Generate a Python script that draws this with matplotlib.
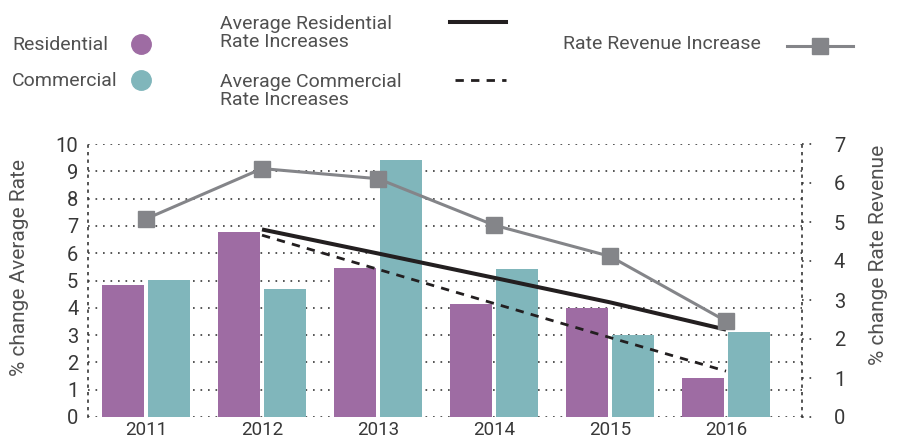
import numpy as np
import matplotlib.pyplot as plt
from matplotlib.lines import Line2D
from matplotlib import transforms

# -------------------------
# Dati
# -------------------------
years = ["2011", "2012", "2013", "2014", "2015", "2016"]
residential = [4.83, 6.77, 5.46, 4.14, 4.00, 1.42]
commercial = [5.01, 4.68, 9.41, 5.42, 3.00, 3.10]
revenue = [5.08, 6.37, 6.11, 4.92, 4.12, 2.46]

# linee di tendenza (da 2012 a 2016)
trend_years = ["2012", "2013", "2014", "2015", "2016"]
trend_residential = [6.87, 5.99, 5.10, 4.20, 3.20]
trend_commercial = [6.66, 5.41, 4.16, 2.91, 1.68]

left_ticks = list(range(0, 11))
right_ticks = list(range(0, 8))

# -------------------------
# Stile
# -------------------------
c_res = "#9e6ca3"
c_com = "#80b6bb"
c_rev = "#848589"
c_trend = "#231f20"
c_text = "#383838"
c_label = "#505050"
dot = (0, (1, 3.5))

plt.rcParams["font.family"] = ["Roboto", "DejaVu Sans"]

W, H = 898, 442
fig = plt.figure(figsize=(W / 100, H / 100), dpi=100)

ax = fig.add_axes([88 / W, 1 - 417 / H, (802 - 88) / W, (417 - 144) / H])
ax2 = ax.twinx()

x = np.arange(len(years))
xt = np.array([years.index(y) for y in trend_years])

ax.bar(x - 0.2, residential, width=0.365, color=c_res, zorder=2)
ax.bar(x + 0.2, commercial, width=0.365, color=c_com, zorder=2)

ax.plot(xt, trend_residential, color=c_trend, lw=2.9, zorder=3, solid_capstyle="butt")
ax.plot(xt, trend_commercial, color=c_trend, lw=2.0, ls=(0, (3, 2.6)), zorder=3)

ax2.plot(x, revenue, color=c_rev, lw=2.2, marker="s", ms=12, zorder=4)

ax.set_xlim(-0.5, 5.655)
ax.set_ylim(0, 10)
ax2.set_ylim(0, 7)

ax.set_xticks(x)
ax.set_xticklabels(years)
ax.set_yticks(left_ticks)
ax2.set_yticks(right_ticks)

ax.tick_params(axis="x", length=0, pad=3, labelsize=13.5, labelcolor=c_text)
ax.tick_params(axis="y", length=0, pad=7, labelsize=14.5, labelcolor=c_text)
ax2.tick_params(axis="y", length=0, pad=23, labelsize=14.5, labelcolor=c_text)

ax.set_axisbelow(True)
ax.grid(axis="y", color=c_text, ls=dot, lw=1.2, zorder=0)

for a in (ax, ax2):
    for s in ("top", "bottom"):
        a.spines[s].set_visible(False)
    for s in ("left", "right"):
        a.spines[s].set_linestyle(dot)
        a.spines[s].set_linewidth(1.2)
        a.spines[s].set_color(c_text)
ax.spines["right"].set_visible(False)
ax2.spines["left"].set_visible(False)

# piccoli tick puntinati sull'asse destro
tr = transforms.blended_transform_factory(ax2.transAxes, ax2.transData)
for v in right_ticks:
    ax2.plot([1.0, 1.018], [v, v], transform=tr, color=c_text, ls=dot, lw=1.2, clip_on=False)

fig.text(20 / W, 1 - 267 / H, "% change Average Rate", rotation=90, ha="center", va="center",
         fontsize=15, color=c_label)
fig.text(878 / W, 1 - 255 / H, "% change Rate Revenue", rotation=90, ha="center", va="center",
         fontsize=15, color=c_label)

# -------------------------
# Legenda
# -------------------------
fs = 14
fig.text(12 / W, 1 - 45 / H, "Residential", ha="left", va="center", fontsize=fs, color=c_label)
fig.text(12 / W, 1 - 81 / H, "Commercial", ha="left", va="center", fontsize=fs, color=c_label)
fig.add_artist(Line2D([141 / W], [1 - 44 / H], marker="o", ms=14, color=c_res, transform=fig.transFigure))
fig.add_artist(Line2D([141 / W], [1 - 80 / H], marker="o", ms=14, color=c_com, transform=fig.transFigure))

fig.text(220 / W, 1 - 33 / H, "Average Residential\nRate Increases", ha="left", va="center",
         fontsize=fs, color=c_label, linespacing=1.05)
fig.text(220 / W, 1 - 91 / H, "Average Commercial\nRate Increases", ha="left", va="center",
         fontsize=fs, color=c_label, linespacing=1.05)
fig.add_artist(Line2D([450 / W, 506 / W], [1 - 22 / H] * 2, color=c_trend, lw=2.9,
                      transform=fig.transFigure))
fig.add_artist(Line2D([455 / W, 506 / W], [1 - 80 / H] * 2, color=c_trend, lw=2.0,
                      ls=(0, (3, 2.6)), transform=fig.transFigure))

fig.text(563 / W, 1 - 44 / H, "Rate Revenue Increase", ha="left", va="center", fontsize=fs, color=c_label)
fig.add_artist(Line2D([787 / W, 820 / W, 853 / W], [1 - 46 / H] * 3, color=c_rev, lw=2.2,
                      marker="s", ms=12, markevery=[1], transform=fig.transFigure))

fig.savefig("out.png", dpi=100)
